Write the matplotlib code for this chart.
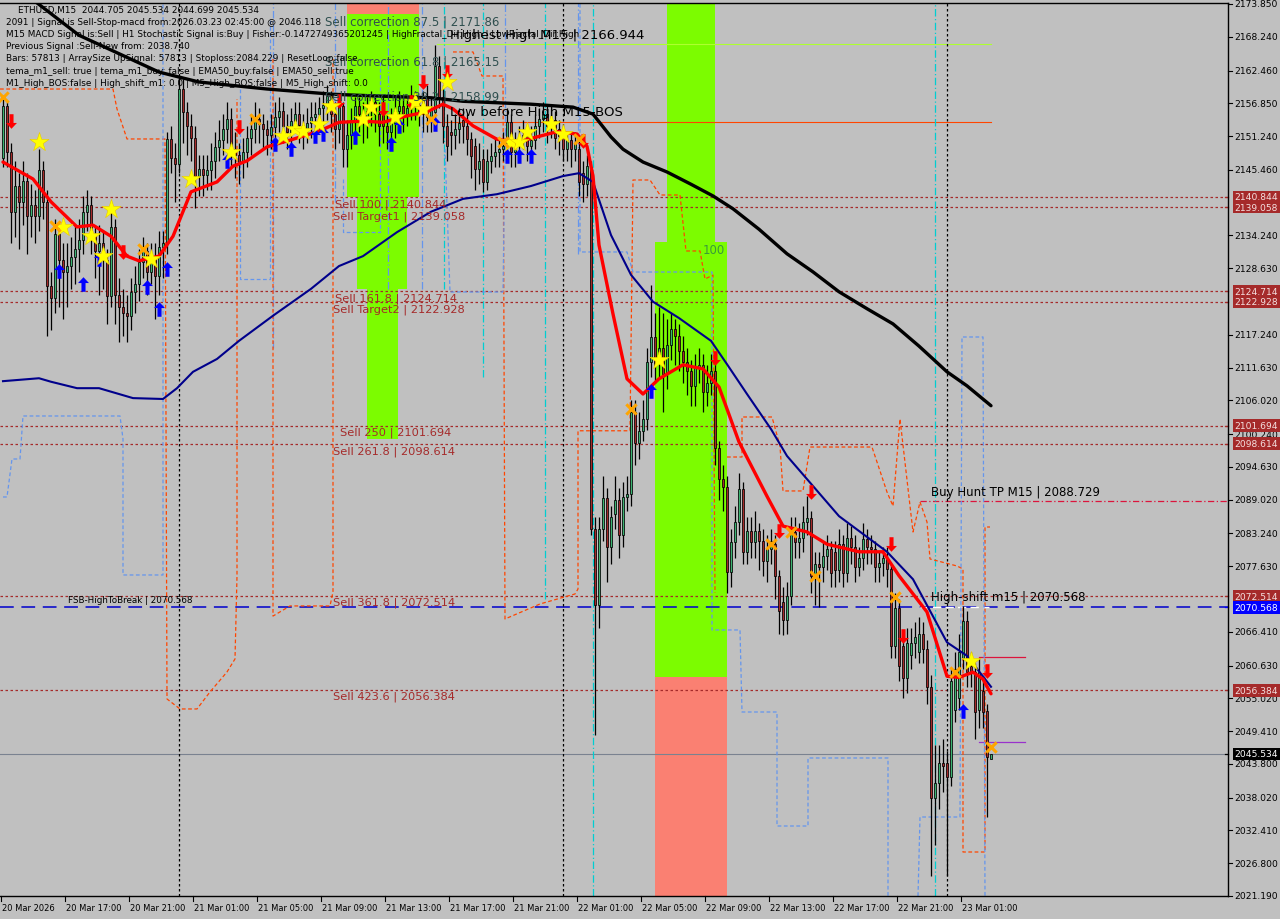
import matplotlib
matplotlib.use('Agg')
import matplotlib.pyplot as plt
from matplotlib.path import Path
import matplotlib.transforms as mtrans

# ---------------- DATA ----------------
opens = [
 2147.5,2156.4,2148.5,2138.3,2142.7,2140,2143.5,2137.5,2139.5,2137.5,
 2145.5,2140,2125.6,2123.5,2134.5,2130,2128,2129,2130.5,2132,
 2133.5,2138.3,2139.5,2134.5,2131.5,2133,2130,2123.9,2135.7,2124,
 2122,2121,2120.5,2124.5,2126,2129.7,2131.5,2128,2130.5,2127.3,
 2132.3,2133,2150.7,2147.5,2146.5,2159.3,2155.4,2153,2151,2144.4,
 2145.6,2144.5,2145.5,2147,2149.4,2150.5,2152.5,2154.2,2149,2148,
 2146.8,2148.5,2151,2152.5,2154.2,2153.3,2152.5,2151.5,2152.8,2154.5,
 2155.5,2153,2152,2153.8,2155,2153.2,2152.5,2153.5,2154.5,2155,
 2156,2156.6,2158.1,2155,2152.5,2156.4,2149,2151.5,2154,2156.4,
 2155,2153.5,2155.5,2157,2155,2156.4,2153,2152,2153.5,2155.5,
 2156.4,2155,2156,2157.5,2156.5,2157.5,2158,2154.5,2155.4,2163.2,
 2158,2153,2152,2151.5,2152.5,2154,2153,2150.7,2149.5,2145.6,
 2147.3,2143.4,2147,2147.8,2148.5,2149,2149.6,2153.7,2148.5,2149.5,
 2150.5,2151.5,2149.5,2150.5,2153,2154.2,2155,2153,2154,2152.5,
 2151.3,2149,2150.5,2149,2149,2145,2143,2146,2084,2071,
 2084,2089.3,2081,2086.5,2089,2083,2089.5,2090,2104,2098.8,
 2100.8,2102.8,2112.6,2116.8,2112.5,2115,2110.5,2115.5,2118.3,2117,
 2114.5,2112.5,2111,2108.5,2111.5,2112,2107.5,2109,2111,2097.8,
 2092.6,2091.2,2076.6,2081.8,2085.2,2090.8,2080,2083.6,2081.8,2083.7,
 2082,2078.5,2080.6,2081.5,2076,2071.5,2068.5,2072.5,2083.5,2081.8,
 2082.5,2085.2,2085.8,2076,2078,2077.5,2079.4,2080.6,2080,2077,
 2081.5,2076.5,2082.5,2081,2077.5,2079,2082.3,2081,2080.5,2077.5,
 2078.2,2079,2077.2,2064,2070.5,2064,2058.5,2062.5,2064.5,2063,
 2066,2063.5,2057,2038,2040.5,2044,2044,2041.5,2053,2055,
 2062,2068.2,2060.5,2059.5,2053,2056.3,2052.9,2044.705]
closes = [
 2156.4,2148.5,2138.3,2142.7,2140,2143.5,2137.5,2139.5,2137.5,2145.5,
 2140,2125.6,2123.5,2134.5,2130,2128,2129,2130.5,2132,2133.5,
 2138.3,2139.5,2134.5,2131.5,2133,2130,2123.9,2135.7,2124,2122,
 2121,2120.5,2124.5,2126,2129.7,2131.5,2128,2130.5,2127.3,2132.3,
 2133,2150.7,2147.5,2146.5,2159.3,2155.4,2153,2151,2144.4,2145.6,
 2144.5,2145.5,2147,2149.4,2150.5,2152.5,2154.2,2149,2148,2146.8,
 2148.5,2151,2152.5,2154.2,2153.3,2152.5,2151.5,2152.8,2154.5,2155.5,
 2153,2152,2153.8,2155,2153.2,2152.5,2153.5,2154.5,2155,2156,
 2156.6,2158.1,2155,2152.5,2156.4,2149,2151.5,2154,2156.4,2155,
 2153.5,2155.5,2157,2155,2153,2153,2152,2153.5,2155.5,2156.4,
 2155,2156,2157.5,2156.5,2155.5,2155,2154.5,2156,2163.2,2158,
 2153,2149.5,2151.5,2152.5,2153.5,2153,2150.7,2147.8,2145.6,2147,
 2143.4,2147,2147.8,2148.5,2149,2149.6,2153.7,2148.5,2149.5,2150.5,
 2151.5,2149.5,2150.5,2153,2154.2,2155,2153,2154,2151,2151.3,
 2149,2150.5,2149,2150,2143.4,2143,2146.1,2084,2071,2084,
 2089.3,2081,2086,2089,2083,2089.5,2090,2104,2098.8,2100.8,
 2102.8,2112.6,2116.8,2112,2115,2110.5,2115.5,2118.3,2117,2114.5,
 2112.5,2111,2108.5,2111.5,2112,2107.5,2109,2111,2097.8,2092.6,
 2091.2,2076.6,2081.8,2085.2,2090.8,2080,2083.6,2081.8,2083.7,2082,
 2078.5,2080.6,2082,2076,2070,2068.5,2072.5,2083.5,2081.8,2082.5,
 2085.2,2085.8,2076,2078,2077.5,2079.4,2080.6,2076.5,2077,2081.5,
 2076.5,2082.5,2081,2077.5,2079,2082.3,2081,2080.5,2077.5,2078.2,
 2079,2077.2,2064,2070.5,2060.5,2058.5,2064.5,2064.5,2065.5,2066,
 2063.5,2057,2038,2040.5,2044,2043.5,2041.5,2058,2060,2063,
 2068.2,2059.5,2059.5,2052.7,2059.5,2052.7,2045,2045.534]
highs = [
 2158,2157,2150,2147,2145,2147,2145,2143,2142,2149,
 2147,2142,2128,2137,2136,2133,2133,2134,2136,2137,
 2141,2142,2141,2136,2136,2135,2132,2140,2137,2127,
 2125,2124,2127,2129,2132,2134,2133,2133,2133,2135,
 2135,2152,2153,2150,2161.5,2161,2157,2155,2153,2148,
 2148,2148,2150,2152,2154,2155,2157,2156,2152,2150,
 2151,2153,2155,2157,2156,2155,2154,2155,2157,2158,
 2157,2155,2156,2157,2157,2155,2156,2157,2157,2158,
 2159,2160,2159,2157,2158,2157,2154,2156,2158,2158,
 2157,2158,2159,2158.5,2157,2158,2155,2156,2158,2159,
 2158,2158,2160,2159,2158,2159,2160,2158,2166.9,2165,
 2160,2155,2154,2155,2156,2156,2155,2152,2151,2150,
 2149,2149,2150,2151,2151,2152,2156,2155,2152,2153,
 2154,2153,2153,2155,2156,2157,2156.5,2156,2155.5,2154,
 2153,2152,2152,2152,2151,2147,2148,2147,2086,2086,
 2093,2091,2088,2093,2091,2092,2093,2106,2106,2104,
 2106,2115,2125.8,2121,2122,2121,2120,2121,2120,2119,
 2117,2115,2113,2114,2115,2114,2112,2114,2113,2099,
 2095,2093,2084,2088,2093.6,2092,2086,2086,2087,2085,
 2084,2083,2084,2083,2077,2074,2075,2086,2086,2085,
 2088,2089.6,2087,2080,2080,2082,2083,2082,2082,2084,
 2083,2085,2084.5,2083,2081,2085,2084,2083,2082,2080,
 2081,2081,2078,2073,2072,2066,2067,2067,2068,2069,
 2068,2065,2059,2047,2047,2048,2046,2060,2063,2066,
 2070.8,2070,2063,2061,2062,2058,2054,2045.534]
lows = [
 2146,2146,2133,2134,2132,2136,2131,2134,2133,2135,
 2137,2117,2118,2121,2122,2120,2122,2125,2126,2128,
 2131,2135,2131,2127,2124,2125,2119,2122,2119,2116,
 2117,2116,2118,2121,2123,2127,2124,2126,2120,2124,
 2127,2131,2145,2140,2145,2150,2148,2147,2139,2141,
 2141,2142,2142,2144,2147,2148,2150,2146,2144,2143,
 2144,2146,2148,2150,2150,2149,2148,2149,2151,2152,
 2150,2149,2150,2152,2150,2149,2150,2151,2152,2152,
 2153,2154,2152,2149,2150,2146,2146,2149,2151,2152,
 2150,2151,2153,2152,2149.5,2150,2149,2150,2151,2153,
 2152,2153,2154,2154,2153,2152,2152,2152,2154,2156,
 2150,2147,2148,2149,2150,2150,2148,2144,2142,2143,
 2141.7,2142,2145,2146,2146,2147,2148,2146,2146,2148,
 2149,2147,2147,2149,2151,2152,2150,2151,2149,2148,
 2147,2147,2146,2147,2141,2140,2141,2083,2048.7,2067,
 2082,2075,2078,2084,2079,2081,2087,2088,2095,2096,
 2099,2101,2110,2109,2110,2104,2108,2113,2112,2111,
 2109,2107,2105,2105,2109,2104,2105,2107,2095,2089,
 2087,2073,2074,2079,2083,2078,2078,2079,2079,2077,
 2076,2075,2078,2072,2066,2065.8,2066,2071,2079,2079,
 2080,2083,2073,2071,2070.6,2075,2077,2074,2074,2075,
 2074,2075,2078,2075,2076,2077,2078,2078,2075,2075,
 2076,2074,2062,2062,2058,2055,2056,2060,2062,2061,
 2061,2054,2024.6,2030,2036,2039,2024.6,2040,2051,2053,
 2060,2057,2057,2048,2050,2050,2034.7,2044.7]

time_labels = ["20 Mar 2026", "20 Mar 17:00", "20 Mar 21:00", "21 Mar 01:00", "21 Mar 05:00",
               "21 Mar 09:00", "21 Mar 13:00", "21 Mar 17:00", "21 Mar 21:00", "22 Mar 01:00",
               "22 Mar 05:00", "22 Mar 09:00", "22 Mar 13:00", "22 Mar 17:00", "22 Mar 21:00",
               "23 Mar 01:00"]
price_ticks = [2173.850, 2168.240, 2162.460, 2156.850, 2151.240, 2145.460, 2134.240, 2128.630,
               2117.240, 2111.630, 2106.020, 2100.240, 2094.630, 2089.020, 2083.240, 2077.630,
               2066.410, 2060.630, 2055.020, 2049.410, 2043.800, 2038.020, 2032.410, 2026.800,
               2021.190]
level_prices = [2140.844, 2139.058, 2124.714, 2122.928, 2101.694, 2098.614, 2072.514, 2056.384]
high_to_break = 2070.568
bid_price = 2045.534
buy_hunt_tp = 2088.729
highest_high = 2166.944
low_before_high = 2153.65

# moving averages (bar, price) vertices
ma_black_x = [7.25,19,32,39,49,66,82.5,93.5,107,115,132,142.5,147.5,152,155,160,166,172,177.5,
              182.5,189,196,202.5,209,216,222.5,229,236,241,247]
ma_black_y = [2174.7,2168.5,2164.4,2162.2,2160.5,2159.3,2158.4,2158.1,2157.8,2157.2,2156.7,2156.2,
              2155.0,2151.1,2149.0,2146.8,2145.1,2143.0,2141.0,2138.8,2135.3,2131.1,2128.0,2124.6,
              2121.7,2119.1,2115.3,2110.9,2108.5,2105.1]
ma_navy_x = [0,9,12,18.5,24,32.5,40,43.5,47.5,53.5,59,67.5,77,84,90,98.5,107,115,123.5,132,140,144,
             147.5,152,157,162.5,169,177,181,186,192,196,209,221,227.5,236,241,247]
ma_navy_y = [2109.3,2109.8,2109.2,2108.1,2108.1,2106.4,2106.25,2108.1,2110.9,2113.1,2116.2,2120.5,
             2125.1,2129.0,2130.7,2134.8,2138.3,2140.5,2141.3,2142.7,2144.4,2144.9,2143.4,2134.3,
             2127.5,2122.9,2120.1,2116.2,2112.2,2107.1,2101.1,2096.5,2086.2,2080.1,2075.4,2064.6,
             2062.3,2057.0]
ma_red_x = [0,7.5,12,18.5,22.5,27,31,34,39,42.5,47,53.5,57.5,61,66,72.5,79,84,90,95,101,106,110,
            112.5,117.5,123.5,128.5,133.5,138.5,143.5,146,147.5,149,152.5,156,160,164,170,175,179,
            184,191,195,201,206,214,220,224,231,236,239,242.5,245,247]
ma_red_y = [2146.8,2143.9,2140.0,2135.7,2136.0,2134.1,2130.7,2129.9,2130.7,2134.1,2141.7,2143.4,
            2146.1,2147.0,2149.4,2150.7,2152.1,2153.6,2153.8,2153.6,2154.7,2155.4,2156.7,2155.9,
            2153.0,2150.7,2150.2,2151.1,2152.0,2151.6,2149.5,2144.4,2132.6,2120.8,2109.7,2107.1,
            2109.7,2112.1,2111.4,2108.3,2098.9,2089.6,2084.5,2083.5,2081.4,2080.1,2080.1,2076.0,
            2069.8,2058.8,2058.6,2059.5,2058.3,2055.8]

# signal markers (bar, price)
star_x = [9,15,22,25,27,37,47,57,70,73,75,79,82,90,92,98,103,105,111,127,129,131,137,140,164,242]
star_y = [2150.2,2135.7,2134.1,2130.7,2138.8,2130.2,2143.9,2148.5,2151.3,2152.5,2152.1,2153.3,
          2156.4,2154.2,2156.2,2154.5,2157.1,2155.9,2160.5,2150.2,2150.2,2151.9,2153.3,2151.6,
          2113.0,2061.4]
up_x = [14,20,24,36,39,41,56,68,72,78,80,88,97,99,108,126,129,132,162,240]
up_y = [2128.1,2125.9,2130.2,2125.4,2121.6,2128.5,2147.0,2149.9,2149.0,2151.3,2151.6,2151.1,
        2149.9,2153.0,2153.3,2147.8,2147.8,2147.8,2107.6,2052.8]
down_x = [2,30,59,84,95,102,105,111,145,178,194,202,222,225,246]
down_y = [2153.8,2131.4,2152.8,2157.2,2155.9,2157.1,2160.5,2162.2,2150.4,2113.3,2083.7,2090.4,
          2081.4,2065.7,2059.7]
cross_x = [0,13,35,63,107,125,144,157,192,197,203,223,238,247]
cross_y = [2157.9,2135.9,2131.9,2154.2,2154.2,2150.2,2150.7,2104.5,2081.4,2083.5,2076.0,2072.4,
           2059.5,2046.7]

# dashed step channels (bar, price)
orange_steps = [
 ([-0.75,27.5,28.5,31,40.5,41,44.25,48.5,51.75,56,58,58.5,58.5],
  [2159.3,2159.3,2155.88,2150.75,2150.75,2054.91,2053.2,2053.2,2056.11,2059.53,2061.76,2075.96,2157.59]),
 ([67.5,67.5,71.75,81.75,82.5,82.5],
  [2164.44,2069.1,2070.83,2070.83,2073.22,2164.44]),
 ([112.5,117.5,119.75,125,125.5,134.25,143,143.75,143.75,156.75,157.5,161.75,164.25,169.25,170.75,
   174.25,175.5,177.5,178],
  [2165.64,2165.64,2161.53,2161.53,2068.6,2071.17,2072.88,2073.73,2100.81,2100.81,2143.73,2143.73,
   2141.16,2141.16,2131.58,2131.58,2126.78,2127.47,2073.05]),
 ([181,184.75,184.75,192.25,194.25,195,200,201.75,217.25,221,222.5,224.25,227.5,229.25,231,231.75,
   238.5,240,240,245.5,245.5,246.75],
  [2096.32,2096.32,2103.17,2103.17,2098.21,2090.51,2090.51,2098.03,2098.03,2090.33,2087.93,2102.83,
   2083.49,2088.62,2085.2,2078.87,2077.67,2077.16,2028.72,2028.72,2084.34,2084.34]),
]
blue_steps = [
 ([0,1,2.25,4.25,5,29.25,30,30,40,40],
  [2089.48,2089.48,2095.98,2095.98,2103.34,2103.34,2099.4,2076.13,2076.13,2173.85]),
 ([59.25,59.25,66.75,66.75], [2159.3,2126.78,2126.78,2171.28]),
 ([85,85,94.25,94.25], [2143.9,2134.83,2134.83,2164.44]),
 ([110.5,111.75,125,125.5], [2149.03,2124.56,2124.56,2149.03]),
 ([144.25,144.25,156,157.5,177.25,177.25,184.25,184.75,193.5,193.5,201.25,201.25,221.25,221.25],
  [2173.85,2131.41,2131.41,2127.98,2127.98,2066.72,2066.72,2052.68,2052.68,2033.17,2033.17,
   2044.81,2044.81,2021.19]),
 ([228.75,229.25,239.25,239.75,245,245.5],
  [2021.19,2034.71,2034.71,2116.86,2116.86,2021.19]),
]
# vertical dash-dot lines (bar, top price, bottom price)
blue_vlines = [(67.5, 2174, 2115), (83, 2174, 2140), (96.25, 2174, 2125), (104.75, 2174, 2125),
               (125.5, 2174, 2149), (143.75, 2174, 2131)]
cyan_vlines = [(110.25, 2174, 2125), (120, 2174, 2110), (135.5, 2174, 2072), (147.5, 2174, 2021.19),
               (233, 2174, 2021.19)]
day_separators = [44, 140, 236]

# zones (bar0, bar1, price_low, price_high, colour)
zones = [
 (86, 104, 2172.14, 2174.1, '#fa8072'),
 (86, 104, 2140.9, 2172.14, '#7cfc00'),
 (88.5, 101, 2125.0, 2140.9, '#7cfc00'),
 (91, 98.75, 2099.4, 2125.0, '#7cfc00'),
 (166, 178, 2133.1, 2174.1, '#7cfc00'),
 (163, 181, 2058.7, 2133.1, '#7cfc00'),
 (163, 181, 2021.0, 2058.7, '#fa8072'),
]

info_lines = [
 "ETHUSD,M15  2044.705 2045.534 2044.699 2045.534",
 "2091 | Signal is Sell-Stop-macd from:2026.03.23 02:45:00 @ 2046.118",
 "M15 MACD Signal is:Sell | H1 Stochastic Signal is:Buy | Fisher:-0.1472749365201245 | HighFractal_Dir:High | LowFractal_Dir:High",
 "Previous Signal :Sell-New from: 2038.740",
 "Bars: 57813 | ArraySize UpSignal: 57813 | Stoploss:2084.229 | ResetLoop:false",
 "tema_m1_sell: true | tema_m1_buy: false | EMA50_buy:false | EMA50_sell:true",
 "M1_High_BOS:false | High_shift_m1: 0.0 | M5_High_BOS:false | M5_High_shift: 0.0",
]
# chart labels (bar, price, text, colour, size)
chart_texts = [
 (80.5, 2170.94, "Sell correction 87.5 | 2171.86", '#2f4f4f', 8.5),
 (80.5, 2164.1, "Sell correction 61.8 | 2165.15", '#2f4f4f', 8.5),
 (80.5, 2158.1, "Sell correction 38.2 | 2158.99", '#2f4f4f', 8.5),
 (111.75, 2168.7, "Highest High M15 | 2166.944", 'black', 9.5),
 (111.75, 2155.4, "Low before High M15-BOS", 'black', 9.5),
 (83, 2139.7, "Sell 100 | 2140.844", '#a52a2a', 8.2),
 (82.5, 2137.6, "Sell Target1 | 2139.058", '#a52a2a', 8.2),
 (83, 2123.6, "Sell 161.8 | 2124.714", '#a52a2a', 8.2),
 (82.5, 2121.7, "Sell Target2 | 2122.928", '#a52a2a', 8.2),
 (84.25, 2100.6, "Sell 250 | 2101.694", '#a52a2a', 8.2),
 (82.5, 2097.35, "Sell 261.8 | 2098.614", '#a52a2a', 8.2),
 (82.5, 2071.5, "Sell 361.8 | 2072.514", '#a52a2a', 8.2),
 (82.5, 2055.4, "Sell 423.6 | 2056.384", '#a52a2a', 8.2),
 (16.25, 2071.85, "FSB-HighToBreak | 2070.568", 'black', 6.3),
 (232, 2090.5, "Buy Hunt TP M15 | 2088.729", 'black', 8.5),
 (232, 2072.5, "High-shift m15 | 2070.568", 'black', 8.5),
 (175, 2131.75, "100", '#3a9a3a', 8.5),
]

# ---------------- DRAW ----------------
BG = '#c0c0c0'
W, H = 1280, 920
fig = plt.figure(figsize=(12.8, 9.2), dpi=100, facecolor=BG)
ax = fig.add_axes([0.0, (H - 897) / H, 1228 / W, (897 - 4) / H])
ax.set_facecolor(BG)
ax.set_xlim(-0.75, 306.25)
ax.set_ylim(2021.19, 2174.02)
ax.set_xticks([]); ax.set_yticks([])
for s in ax.spines.values():
    s.set_color('black'); s.set_linewidth(1.0)
ax.spines['left'].set_visible(False)

# zones
for b0, b1, p0, p1, c in zones:
    ax.fill_between([b0, b1], [p0, p0], [p1, p1], color=c, lw=0, zorder=0.5)

# horizontal levels
for p in level_prices:
    ax.axhline(p, color='#a52a2a', lw=0.9, ls=(0, (2, 2)), zorder=1)
ax.axhline(high_to_break, color='#0000cd', lw=1.1, ls=(0, (9, 5)), zorder=1)
ax.plot([229.25, 246.5], [high_to_break, high_to_break], color='white', lw=1, ls=(0, (6, 3)), zorder=1.1)
ax.axhline(bid_price, color='#7a8290', lw=0.8, zorder=1)
ax.plot([108.5, 247], [highest_high, highest_high], color='#adff2f', lw=0.8, zorder=1)
ax.plot([108.5, 247], [low_before_high, low_before_high], color='#ff4500', lw=0.8, zorder=1)
ax.plot([229.25, 306.25], [buy_hunt_tp, buy_hunt_tp], color='#dc143c', lw=0.9, ls=(0, (5, 2, 1, 2)), zorder=1)
ax.plot([244, 255.5], [2062.1, 2062.1], color='#dc143c', lw=0.9, zorder=1)
ax.plot([244, 255.5], [2047.5, 2047.5], color='#9932cc', lw=0.9, zorder=1)

# vertical lines
for b in day_separators:
    ax.axvline(b, color='black', lw=0.9, ls=(0, (2, 2)), zorder=1)
for b, p1, p0 in blue_vlines:
    ax.plot([b, b], [p0, p1], color='#6495ed', lw=0.9, ls=(0, (6, 2, 1, 2)), zorder=1)
for b, p1, p0 in cyan_vlines:
    ax.plot([b, b], [p0, p1], color='#00ced1', lw=0.9, ls=(0, (6, 2, 1, 2)), zorder=1)

for xs, ys in orange_steps:
    ax.plot(xs, ys, color='#ff4500', lw=0.9, ls=(0, (3, 2)), zorder=1.2)
for xs, ys in blue_steps:
    ax.plot(xs, ys, color='#6495ed', lw=0.9, ls=(0, (3, 2)), zorder=1.2)

# candles
n = len(closes)
bars = list(range(n))
ax.vlines(bars, lows, highs, color='black', lw=0.9, zorder=2)
bott = [min(o, c) for o, c in zip(opens, closes)]
hgt = [max(abs(c - o), 0.25) for o, c in zip(opens, closes)]
cols = ['#3cb371' if c >= o else '#a52a2a' for o, c in zip(opens, closes)]
ax.bar(bars, hgt, bottom=bott, width=0.72, color=cols, edgecolor='black', linewidth=0.55, zorder=2.1)

# moving averages
ax.plot(ma_black_x, ma_black_y, color='black', lw=2.4, zorder=3, solid_capstyle='round')
ax.plot(ma_navy_x, ma_navy_y, color='#00008b', lw=1.5, zorder=3)
ax.plot(ma_red_x, ma_red_y, color='#ff0000', lw=2.4, zorder=3.1, solid_capstyle='round')

# markers
up_arrow = Path([(0, 1), (0.75, 0.2), (0.28, 0.2), (0.28, -1), (-0.28, -1), (-0.28, 0.2), (-0.75, 0.2), (0, 1)])
down_arrow = Path([(0, -1), (0.75, -0.2), (0.28, -0.2), (0.28, 1), (-0.28, 1), (-0.28, -0.2), (-0.75, -0.2), (0, -1)])
ax.scatter(up_x, up_y, marker=up_arrow, s=110, color='#0000ff', lw=0, zorder=4)
ax.scatter(down_x, down_y, marker=down_arrow, s=110, color='#ff0000', lw=0, zorder=4)
ax.scatter(star_x, star_y, marker='*', s=210, color='#ffff00', edgecolor='#e8c800', lw=0.4, zorder=4.1)
ax.scatter(cross_x, cross_y, marker='x', s=55, color='#ffa500', lw=2.2, zorder=4.2)

# chart labels
for b, p, t, c, fs in chart_texts:
    ax.text(b, p, t, color=c, fontsize=fs, family='DejaVu Sans', va='center', ha='left', zorder=5)

# info text (top-left)
for k, line in enumerate(info_lines):
    xpx = 18 if k == 0 else 6
    fig.text(xpx / W, 1 - (10 + 12.2 * k) / H, line, fontsize=6.4, family='DejaVu Sans',
             color='black', va='center', ha='left', zorder=6)

# right price axis
tr = mtrans.blended_transform_factory(ax.transAxes, ax.transData)
for p in price_ticks:
    ax.plot([1.0, 1.0033], [p, p], transform=tr, color='black', lw=0.8, clip_on=False)
    ax.text(1.0055, p, f"{p:.3f}", transform=tr, fontsize=6.6, family='DejaVu Sans',
            va='center', ha='left', color='black', clip_on=False)
boxes = [(p, '#a52a2a', '#f4e0e0') for p in level_prices] + \
        [(high_to_break, '#0000ff', 'white'), (bid_price, 'black', 'white')]
for p, fc, tc in boxes:
    ax.plot([0.9975, 1.0], [p, p], transform=tr, color=fc, lw=0.9, clip_on=False)
    ax.text(1.0055, p, f"{p:.3f}", transform=tr, fontsize=6.6, family='DejaVu Sans',
            va='center', ha='left', color=tc, clip_on=False, zorder=7,
            bbox=dict(boxstyle='square,pad=0.18', fc=fc, ec='none'))

# bottom time axis
trb = mtrans.blended_transform_factory(ax.transData, ax.transAxes)
for k, lab in enumerate(time_labels):
    b = 16 * k - 0.5
    ax.plot([b, b], [0, -0.006], transform=trb, color='black', lw=0.8, clip_on=False)
    ax.text(b + 0.3, -0.0125, lab, transform=trb, fontsize=6.0, family='DejaVu Sans',
            va='center', ha='left', color='black', clip_on=False)

fig.savefig('out.png', dpi=100, facecolor=BG)
